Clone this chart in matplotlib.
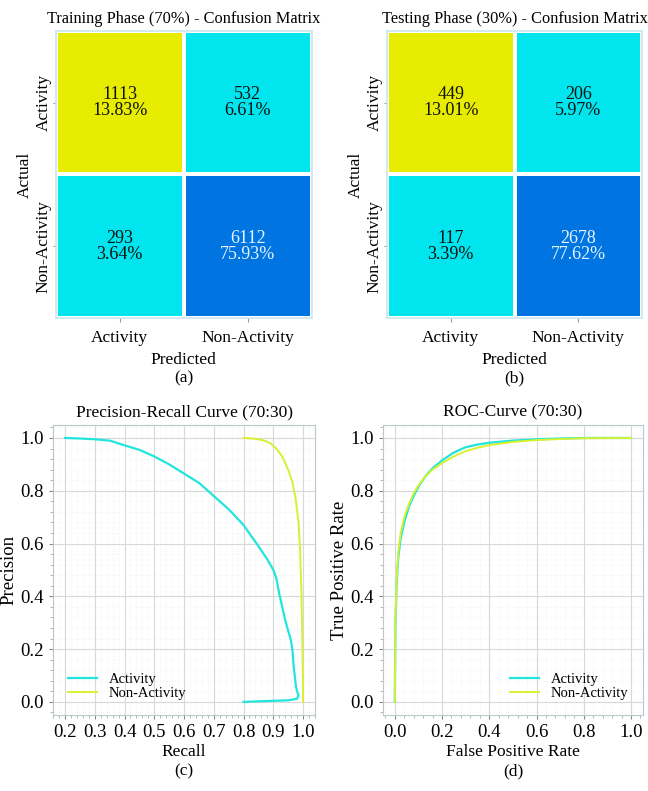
import numpy as np
import matplotlib.pyplot as plt
from matplotlib.colors import ListedColormap
from matplotlib.ticker import AutoMinorLocator

plt.rcParams['font.family'] = ['Liberation Serif', 'DejaVu Serif']

labels = ["Activity", "Non-Activity"]
cm_train = np.array([[1113, 532], [293, 6112]])
cm_test = np.array([[449, 206], [117, 2678]])
# which colour each cell gets: 0 yellow, 1 cyan, 2 blue
cell_kind = np.array([[0, 1], [1, 2]])
cell_cmap = ListedColormap(["#E8EC00", "#00E5EE", "#0075E2"])

# precision-recall points
pr_act_recall = [0.20, 0.25, 0.30, 0.35, 0.40, 0.45, 0.50, 0.55, 0.60, 0.65, 0.70,
                 0.75, 0.80, 0.85, 0.88, 0.90, 0.91, 0.92, 0.93, 0.94, 0.95,
                 0.96, 0.965, 0.968, 0.972, 0.976, 0.98, 0.985, 0.98, 0.95, 0.90,
                 0.85, 0.80]
pr_act_prec = [1.00, 0.998, 0.995, 0.99, 0.972, 0.955, 0.93, 0.90, 0.865, 0.83, 0.78,
               0.73, 0.67, 0.59, 0.54, 0.50, 0.47, 0.41, 0.36, 0.31, 0.27,
               0.23, 0.19, 0.14, 0.10, 0.06, 0.04, 0.025, 0.012, 0.006, 0.004,
               0.002, 0.0]
pr_non_recall = [0.80, 0.84, 0.87, 0.89, 0.91, 0.93, 0.95, 0.965, 0.975, 0.985,
                 0.99, 0.995, 0.998, 1.0, 1.0]
pr_non_prec = [1.00, 0.997, 0.99, 0.98, 0.96, 0.93, 0.88, 0.83, 0.77, 0.68,
               0.58, 0.40, 0.20, 0.05, 0.0]

# ROC points
roc_act_fpr = [0.0, 0.003, 0.008, 0.015, 0.025, 0.04, 0.06, 0.08, 0.10, 0.13,
               0.16, 0.20, 0.25, 0.30, 0.35, 0.40, 0.50, 0.60, 0.70, 0.80, 1.0]
roc_act_tpr = [0.0, 0.30, 0.45, 0.55, 0.62, 0.68, 0.74, 0.78, 0.815, 0.855,
               0.885, 0.915, 0.945, 0.965, 0.975, 0.982, 0.99, 0.995, 0.998, 1.0, 1.0]
roc_non_fpr = [0.0, 0.003, 0.008, 0.015, 0.025, 0.04, 0.06, 0.08, 0.10, 0.13,
               0.16, 0.20, 0.25, 0.30, 0.35, 0.40, 0.50, 0.60, 0.70, 0.80, 1.0]
roc_non_tpr = [0.0, 0.32, 0.47, 0.57, 0.64, 0.70, 0.75, 0.79, 0.82, 0.855,
               0.88, 0.905, 0.93, 0.95, 0.963, 0.973, 0.985, 0.992, 0.996, 0.999, 1.0]

CYAN = "#22E6DC"
YELLOW = "#D8F030"
SPINE = "#B8C8CC"

fig = plt.figure(figsize=(6.48, 7.91), dpi=100)


def conf_matrix(ax, cm, title, letter):
    total = cm.sum()
    ax.pcolormesh(cell_kind, cmap=cell_cmap, vmin=-0.5, vmax=2.5,
                  edgecolors="white", linewidth=1.6)
    ax.set_xlim(0, 2)
    ax.set_ylim(2, 0)
    for i in range(2):
        for j in range(2):
            color = "#E8F4FF" if cell_kind[i, j] == 2 else "#111111"
            ax.text(j + 0.5, i + 0.5, f"{cm[i, j]}\n{cm[i, j] / total * 100:.2f}%",
                    ha="center", va="center", fontsize=13, color=color,
                    linespacing=0.95)
    ax.set_xticks([0.5, 1.5])
    ax.set_xticklabels(labels, fontsize=12.5)
    ax.set_yticks([0.5, 1.5])
    ax.set_yticklabels(labels, fontsize=12.5, rotation=90, va="center")
    ax.tick_params(axis="x", length=3, color="#999999", pad=6)
    ax.tick_params(axis="y", length=2, color="#999999", pad=1)
    for s in ax.spines.values():
        s.set_color("#C8E8EE")
        s.set_linewidth(1.2)
    ax.set_title(title, fontsize=11.8, pad=6)
    ax.set_xlabel(f"Predicted\n({letter})", fontsize=12.5, labelpad=4, linespacing=1.2)
    ax.set_ylabel("Actual", fontsize=12.5, labelpad=2)


def style_curve_axes(ax):
    ax.xaxis.set_minor_locator(AutoMinorLocator(5))
    ax.yaxis.set_minor_locator(AutoMinorLocator(5))
    ax.grid(True, which="major", color="#D8D8D8", linewidth=0.8)
    ax.grid(True, which="minor", color="#EEEEEE", linewidth=0.5, linestyle=":")
    ax.set_axisbelow(True)
    ax.tick_params(which="major", length=3, color="#888888", labelsize=13.5)
    ax.tick_params(which="minor", length=2, color="#AAAAAA")
    for s in ax.spines.values():
        s.set_color(SPINE)


ax1 = fig.add_axes([0.086, 0.598, 0.395, 0.363])
conf_matrix(ax1, cm_train, "Training Phase (70%) - Confusion Matrix", "a")

ax2 = fig.add_axes([0.597, 0.598, 0.394, 0.363])
conf_matrix(ax2, cm_test, "Testing Phase (30%) - Confusion Matrix", "b")

ax3 = fig.add_axes([0.082, 0.096, 0.404, 0.367])
ax3.plot(pr_act_recall, pr_act_prec, color=CYAN, lw=1.6, label="Activity")
ax3.plot(pr_non_recall, pr_non_prec, color=YELLOW, lw=1.4, label="Non-Activity")
ax3.set_xticks(np.arange(0.2, 1.01, 0.1))
ax3.set_yticks(np.arange(0, 1.01, 0.2))
style_curve_axes(ax3)
ax3.set_title("Precision-Recall Curve (70:30)", fontsize=12.5, pad=6)
ax3.set_xlabel("Recall\n(c)", fontsize=12.5, labelpad=2, linespacing=1.3)
ax3.set_ylabel("Precision", fontsize=13.5, labelpad=2)
ax3.legend(loc="lower left", frameon=False, fontsize=10.5, handlelength=2,
           borderaxespad=0.6, labelspacing=0.1)

ax4 = fig.add_axes([0.591, 0.096, 0.401, 0.367])
ax4.plot(roc_act_fpr, roc_act_tpr, color=CYAN, lw=1.6, label="Activity")
ax4.plot(roc_non_fpr, roc_non_tpr, color=YELLOW, lw=1.4, label="Non-Activity")
ax4.set_xticks(np.arange(0, 1.01, 0.2))
ax4.set_yticks(np.arange(0, 1.01, 0.2))
style_curve_axes(ax4)
ax4.set_title("ROC-Curve (70:30)", fontsize=12.5, pad=6)
ax4.set_xlabel("False Positive Rate\n(d)", fontsize=12.5, labelpad=2, linespacing=1.3)
ax4.set_ylabel("True Positive Rate", fontsize=13.5, labelpad=2)
ax4.legend(loc="lower right", frameon=False, fontsize=10.5, handlelength=2,
           borderaxespad=0.6, labelspacing=0.1)

fig.savefig("out.png", dpi=100)
